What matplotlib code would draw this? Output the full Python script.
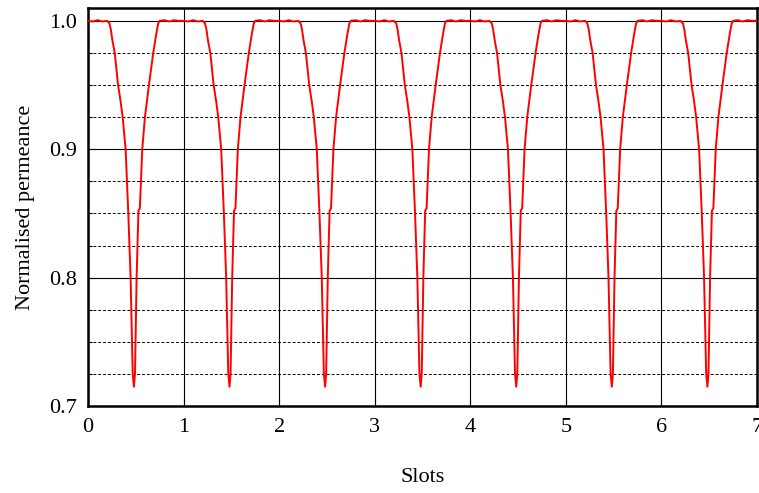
import numpy as np
import matplotlib
matplotlib.use("Agg")
import matplotlib.pyplot as plt
from matplotlib.ticker import MultipleLocator

# Per-slot permeance profile (fraction of slot pitch, normalised permeance)
slot_pos = [0.00, 0.05, 0.10, 0.15, 0.20, 0.225, 0.240, 0.255, 0.280, 0.315,
            0.340, 0.363, 0.394, 0.422, 0.446, 0.460, 0.468, 0.481, 0.492,
            0.498, 0.509, 0.526, 0.528, 0.543, 0.568, 0.596, 0.638, 0.683,
            0.715, 0.735, 0.750, 0.80, 0.85, 0.90, 0.95]
slot_val = [1.000, 0.9995, 1.0005, 0.9995, 1.000, 0.998, 0.993, 0.985, 0.975, 0.950,
            0.938, 0.925, 0.900, 0.850, 0.800, 0.750, 0.725, 0.715, 0.725,
            0.750, 0.800, 0.845, 0.852, 0.854, 0.900, 0.925, 0.950, 0.975,
            0.990, 0.998, 1.000, 1.0005, 0.9995, 1.0005, 1.000]
n_slots = 7

x = np.concatenate([np.array(slot_pos) + k for k in range(n_slots)] + [np.array([7.0])])
y = np.concatenate([np.array(slot_val) for _ in range(n_slots)] + [np.array([1.0])])

plt.rcParams['font.family'] = ['Liberation Serif', 'DejaVu Serif']

fig = plt.figure(figsize=(7.59, 4.93), dpi=100)
ax = fig.add_axes([0.1159, 0.1765, 0.9974 - 0.1159, 0.9838 - 0.1765])

ax.plot(x, y, color='red', lw=1.4, zorder=3)

ax.set_xlim(0, 7)
ax.set_ylim(0.7, 1.01)
ax.xaxis.set_major_locator(MultipleLocator(1))
ax.yaxis.set_minor_locator(MultipleLocator(0.025))
ax.set_yticks([0.7, 0.8, 0.9, 1.0])
ax.set_yticklabels(['0.7', '0.8', '0.9', '1.0'])

ax.grid(True, which='major', color='black', lw=0.8, ls='-')
ax.grid(True, which='minor', axis='y', color='black', lw=0.7, ls=(0, (3, 2)))
ax.tick_params(which='both', direction='in', labelsize=16, length=5, width=0.8)
ax.tick_params(axis='x', pad=9)
ax.tick_params(axis='y', pad=8)
ax.tick_params(which='minor', length=3)
for s in ax.spines.values():
    s.set_linewidth(1.8)

ax.set_xlabel('Slots', fontsize=16, labelpad=22)
ax.set_ylabel('Normalised permeance', fontsize=16, labelpad=10)

fig.savefig('out.png', dpi=100)
